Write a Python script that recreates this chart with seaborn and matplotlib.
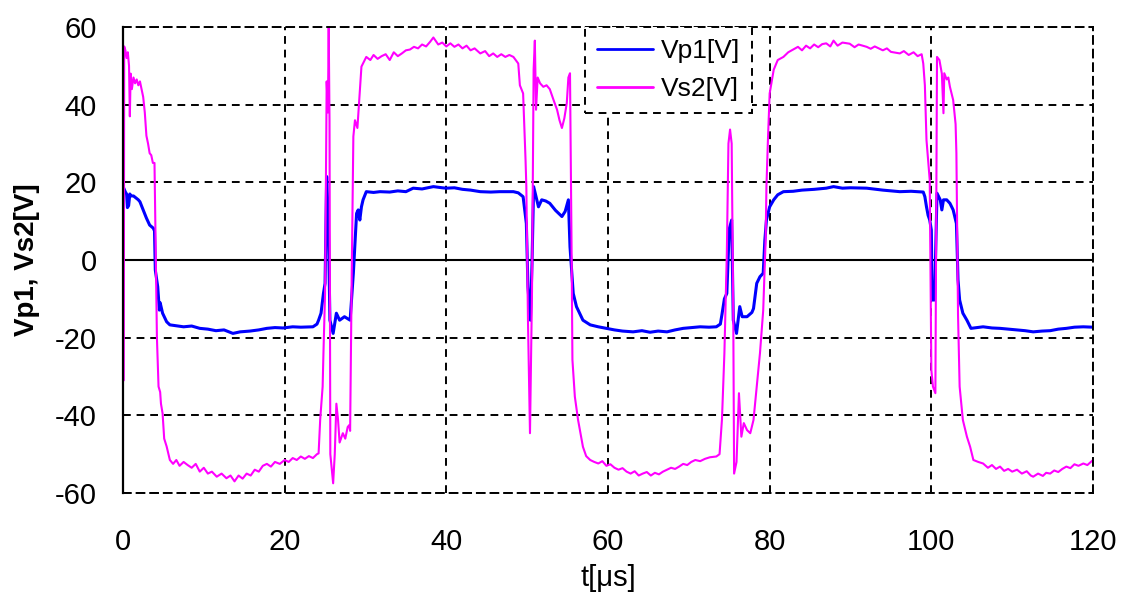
import numpy as np
import pandas as pd
import matplotlib
matplotlib.use("Agg")
import matplotlib.pyplot as plt
import seaborn as sns

# Vp1 waveform (t in us, volts)
t_vp1 = [0.1, 0.3, 0.45, 0.55, 0.7, 0.85, 1.0, 1.3, 1.6, 1.9, 2.1, 2.5, 2.9, 3.3, 3.75, 3.9,
         4.0, 4.3, 4.5, 4.6, 4.9, 5.4, 5.8, 6.5, 7.5, 8.5, 9.5, 10.5, 11.5, 12.5, 13.6, 14.5,
         15.7, 16.8, 17.8, 18.8, 19.8, 21.0, 22.0, 23.5, 24.0, 24.2, 24.5, 24.8, 25.0, 25.2,
         25.4, 25.6, 26.0, 26.4, 26.6, 26.8, 27.4, 28.1, 28.5, 28.9, 29.1, 29.3, 29.5, 29.7,
         30.1, 31.0, 31.8, 33.0, 34.0, 35.0, 35.9, 37.0, 38.4, 39.5, 40.0, 41.0, 42.0, 43.0,
         44.2, 45.5, 46.6, 48.3, 48.9, 49.5, 49.7, 49.9, 50.1, 50.4, 50.6, 50.8, 51.2, 51.4,
         51.8, 52.3, 52.8, 53.5, 54.3, 54.7, 55.1, 55.3, 55.7, 56.1, 56.9, 57.8, 58.8, 59.8,
         60.8, 61.8, 63.1, 64.2, 65.2, 66.2, 67.3, 68.3, 69.3, 70.3, 71.4, 72.5, 73.4, 73.9,
         74.1, 74.4, 74.7, 75.0, 75.3, 75.5, 75.9, 76.3, 76.6, 77.2, 77.8, 78.0, 78.4, 78.8,
         79.2, 79.4, 79.6, 80.0, 80.5, 81.0, 81.7, 82.9, 84.0, 85.5, 87.0, 87.9, 89.0, 90.0,
         92.0, 94.0, 96.1, 97.5, 99.0, 99.2, 99.4, 99.6, 99.8, 100.0, 100.1, 100.4, 100.7,
         101.1, 101.3, 101.5, 101.9, 102.3, 102.7, 103.1, 103.3, 103.5, 103.9, 104.4, 104.9,
         106.4, 107.5, 108.5, 110.6, 111.6, 112.6, 113.7, 114.7, 115.7, 116.7, 117.7, 118.8, 120.0]
vp1 = [18.5, 17.5, 17.0, 13.5, 14.0, 17.0, 16.5, 16.5, 16.0, 15.5, 15.0, 12.9, 10.8, 9.0, 8.2, 7.5,
       -2.6, -6.9, -12.9, -11.0, -13.7, -15.9, -16.7, -16.9, -17.2, -17.0, -17.6, -17.8, -18.2, -18.0, -18.9, -18.5,
       -18.3, -18.0, -17.6, -17.4, -17.5, -17.2, -17.3, -17.2, -16.5, -15.5, -13.7, -8.6, -6.0, 21.5,
       10.3, -15.5, -18.9, -13.7, -14.6, -15.5, -14.6, -15.5, -3.4, 12.0, 12.9, 10.3, 13.7, 15.5,
       17.6, 17.4, 17.6, 17.5, 17.8, 17.6, 18.5, 18.3, 18.9, 18.6, 18.5, 18.6, 18.2, 18.0,
       17.6, 17.5, 17.6, 17.6, 17.3, 16.3, 12.9, 9.4, -6.9, -15.5, -1.0, 18.9, 15.5, 13.7,
       15.5, 15.2, 14.6, 12.8, 11.2, 12.5, 15.5, 3.4, -8.6, -12.0, -15.5, -16.7, -17.2, -17.6,
       -18.0, -18.3, -18.5, -18.2, -18.6, -18.3, -18.5, -18.0, -17.6, -17.4, -17.2, -17.3, -17.2, -16.5,
       -14.0, -10.0, -8.6, 8.0, 10.3, -15.5, -18.9, -12.0, -14.6, -14.6, -13.5, -12.5, -6.0, -4.3,
       -3.4, 5.0, 10.3, 13.7, 15.5, 16.8, 17.6, 17.7, 18.0, 18.2, 18.5, 18.9, 18.5, 18.6,
       18.5, 18.0, 17.6, 17.7, 17.5, 16.3, 13.7, 11.5, 10.3, 7.7, -10.3, -10.3, 17.2,
       15.5, 12.9, 15.5, 15.5, 14.6, 12.9, 9.4, -5.1, -10.3, -13.7, -15.5, -17.6,
       -17.2, -17.5, -17.6, -18.0, -18.2, -18.5, -18.3, -18.2, -17.8, -17.6, -17.3, -17.2, -17.3]

# Vs2 waveform
t_vs2 = [0.1, 0.15, 0.3, 0.45, 0.6, 0.75, 0.85, 0.95, 1.1, 1.3, 1.5, 1.7, 1.9, 2.1, 2.3, 2.5,
         2.7, 2.9, 3.1, 3.3, 3.5, 3.7, 3.9, 4.0, 4.2, 4.4, 4.6, 4.7, 4.9, 5.1, 5.4, 5.8, 6.2,
         6.6, 7.0, 7.5, 8.0, 8.5, 9.0, 9.5, 10.0, 10.5, 11.0, 11.6, 12.2, 12.8, 13.3, 13.8,
         14.3, 14.8, 15.3, 15.8, 16.3, 16.8, 17.3, 17.8, 18.3, 18.8, 19.4, 20.0, 20.5, 21.0,
         21.5, 22.0, 22.5, 23.0, 23.5, 24.0, 24.2, 24.4, 24.7, 24.8, 25.0, 25.2, 25.35, 25.45,
         25.55, 25.65, 26.0, 26.2, 26.4, 26.6, 26.8, 27.2, 27.5, 27.8, 28.0, 28.1, 28.3, 28.5,
         28.7, 29.0, 29.2, 29.5, 30.1, 30.6, 31.0, 31.5, 32.0, 32.5, 33.0, 33.5, 34.0, 34.5,
         35.0, 35.5, 36.0, 36.5, 37.0, 37.5, 38.0, 38.4, 39.0, 39.5, 40.0, 40.5, 41.0, 41.5,
         42.0, 42.5, 43.0, 43.5, 44.2, 44.8, 45.3, 45.8, 46.3, 46.8, 47.3, 47.8, 48.3, 48.9,
         49.1, 49.5, 49.8, 49.9, 50.1, 50.35, 50.6, 50.8, 50.95, 51.1, 51.3, 51.6, 52.0, 52.4,
         52.8, 53.3, 53.7, 54.0, 54.3, 54.6, 54.9, 55.1, 55.3, 55.5, 55.6, 55.9, 56.3, 56.9,
         57.3, 57.8, 58.3, 58.8, 59.3, 59.8, 60.3, 60.8, 61.3, 61.8, 62.3, 62.8, 63.3, 63.8,
         64.3, 64.8, 65.3, 65.8, 66.3, 66.8, 67.3, 67.8, 68.3, 68.8, 69.3, 69.8, 70.3, 70.8,
         71.4, 72.0, 72.6, 73.4, 73.8, 74.1, 74.4, 74.7, 74.9, 75.1, 75.3, 75.5, 75.6, 75.9,
         76.2, 76.5, 76.8, 77.2, 77.6, 78.0, 78.4, 78.8, 79.2, 79.5, 79.6, 79.8, 80.0, 80.5,
         81.0, 81.7, 82.3, 82.9, 83.5, 84.0, 84.5, 85.0, 85.5, 86.0, 86.5, 87.0, 87.5, 87.9,
         88.4, 89.0, 89.9, 90.5, 91.0, 92.0, 92.5, 93.0, 94.0, 94.5, 95.0, 96.1, 96.6, 97.2,
         97.8, 98.3, 98.8, 99.0, 99.2, 99.4, 99.8, 100.0, 100.2, 100.5, 100.7, 101.0, 101.3,
         101.5, 101.6, 101.9, 102.1, 102.3, 102.7, 103.0, 103.1, 103.3, 103.5, 103.9, 104.4,
         104.8, 105.2, 105.8, 106.4, 107.0, 107.5, 108.0, 108.5, 109.0, 109.5, 110.0, 110.6,
         111.2, 111.8, 112.3, 112.6, 113.2, 113.8, 114.2, 114.7, 115.2, 115.7, 116.2, 116.7,
         117.2, 117.7, 118.2, 118.8, 119.3, 120.0]
vs2 = [-31.0, 55.0, 54.0, 52.0, 53.5, 50.0, 37.0, 48.0, 44.0, 47.0, 45.5, 46.5, 45.0, 46.0, 44.0, 42.0,
       38.0, 32.0, 30.0, 27.5, 27.0, 25.0, 25.0, 10.0, -20.0, -32.6, -34.0, -37.0, -39.5, -46.0, -48.0, -51.5, -52.5,
       -51.5, -53.0, -52.0, -52.8, -53.5, -52.5, -54.5, -53.5, -55.0, -54.5, -55.8, -55.0, -56.2, -55.5, -57.0,
       -55.5, -56.3, -55.0, -55.5, -54.0, -54.5, -53.0, -52.5, -53.2, -52.0, -52.5, -51.5, -52.0, -51.0,
       -51.5, -50.6, -51.2, -50.5, -51.0, -50.0, -49.8, -41.0, -32.6, -24.0, -8.6, 46.0, 38.0, 60.0,
       36.0, -50.0, -57.5, -50.0, -37.0, -41.0, -47.0, -44.6, -46.0, -43.0, -42.5, -44.0, -3.5, 31.8,
       36.0, 34.0, 40.4, 49.8, 52.3, 51.5, 52.8, 51.8, 52.5, 53.0, 51.5, 53.5, 52.5, 53.2,
       54.0, 54.2, 54.9, 54.5, 55.5, 55.0, 56.2, 57.3, 55.5, 56.0, 55.0, 55.8, 54.9, 55.5,
       54.5, 55.2, 54.0, 54.5, 53.2, 53.8, 52.5, 53.2, 52.3, 53.0, 52.3, 52.8, 52.3, 50.6,
       45.0, 42.9, 25.8, 18.9, -15.5, -44.6, -8.0, 49.0, 56.5, 38.7, 47.0, 45.5, 44.6, 45.0,
       44.0, 41.0, 38.7, 36.0, 34.0, 36.5, 40.4, 47.0, 48.1, 1.7, -25.7, -35.2, -41.2, -48.1,
       -50.5, -51.5, -52.0, -52.4, -51.8, -53.0, -52.6, -53.5, -54.0, -53.6, -54.5, -55.0, -54.4, -55.5,
       -55.0, -54.6, -55.5, -54.8, -55.2, -54.5, -54.0, -53.5, -53.8, -53.2, -52.5, -52.8, -52.0, -51.5,
       -51.8, -51.2, -50.8, -50.6, -50.0, -41.0, -24.0, 1.7, 30.0, 33.6, 30.0, -15.5, -55.0, -52.0,
       -34.3, -45.5, -42.0, -43.8, -44.6, -41.2, -32.6, -24.0, -13.0, 5.0, 18.9, 31.8, 42.9, 49.0,
       51.5, 52.3, 53.5, 54.2, 54.9, 54.0, 55.2, 54.5, 55.5, 54.8, 55.6, 55.8, 55.0, 56.5,
       55.2, 56.0, 55.7, 54.8, 55.5, 54.9, 54.4, 55.0, 54.0, 54.5, 53.6, 53.2, 53.8, 52.8,
       53.5, 52.5, 53.0, 50.6, 45.0, 30.9, 20.6, -28.3, -32.6, -34.3, 52.3, 51.5, 48.0,
       37.8, 48.1, 46.5, 47.0, 44.6, 41.2, 35.0, 27.5, -14.0, -32.6, -41.2, -45.5,
       -48.1, -51.5, -52.0, -52.4, -53.5, -52.8, -53.8, -53.2, -54.3, -53.8, -54.5, -54.0,
       -55.0, -54.4, -55.5, -55.8, -55.0, -55.6, -54.8, -55.0, -54.2, -54.6, -53.8, -53.2,
       -53.6, -52.6, -53.0, -52.4, -52.8, -51.5]

x_ticks = [0, 20, 40, 60, 80, 100, 120]
y_ticks = [-60, -40, -20, 0, 20, 40, 60]

df = pd.concat([
    pd.DataFrame({"t": t_vp1, "V": vp1, "series": "Vp1[V]"}),
    pd.DataFrame({"t": t_vs2, "V": vs2, "series": "Vs2[V]"}),
], ignore_index=True)

sns.set_style("white")
plt.rcParams["font.family"] = ["Liberation Sans", "DejaVu Sans"]
plt.rcParams["axes.unicode_minus"] = False
plt.rcParams["text.color"] = "black"
plt.rcParams["axes.labelcolor"] = "black"

fig = plt.figure(figsize=(11.23, 6.10), dpi=100)
ax = fig.add_axes([0.1095, 0.1918, 0.8638, 0.7639])

dash = (0, (4, 3))
ax.set_xlim(0, 120)
ax.set_ylim(-60, 60)
ax.set_xticks(x_ticks)
ax.set_yticks(y_ticks)
ax.grid(True, color="black", linestyle=dash, linewidth=1.4)
ax.axhline(0, color="black", linewidth=1.5, zorder=1.5)

colors = {"Vp1[V]": "#0000ff", "Vs2[V]": "#ff00ff"}
widths = {"Vp1[V]": 2.2, "Vs2[V]": 1.5}
for name in ["Vp1[V]", "Vs2[V]"]:
    sns.lineplot(data=df[df["series"] == name], x="t", y="V", color=colors[name],
                 linewidth=widths[name], estimator=None, sort=False, label=name, ax=ax)

for side in ["top", "right", "bottom"]:
    ax.spines[side].set_linestyle(dash)
    ax.spines[side].set_linewidth(1.4)
    ax.spines[side].set_color("black")
ax.spines["left"].set_linewidth(1.6)
ax.spines["left"].set_color("black")

ax.tick_params(axis="y", direction="inout", length=12, width=1.5, labelsize=21, pad=13, colors="black")
ax.tick_params(axis="x", direction="in", length=6, width=1.5, labelsize=21, pad=25, colors="black")

ax.set_xlabel("t[\u03bcs]", fontsize=21)
ax.set_ylabel("Vp1, Vs2[V]", fontsize=20, fontweight="bold")
ax.xaxis.set_label_coords(0.5, -0.152)
ax.yaxis.set_label_coords(-0.086, 0.5)

leg = ax.legend(loc="upper left", bbox_to_anchor=(0.476, 1.0), fontsize=19, frameon=True,
                fancybox=False, framealpha=1, borderaxespad=0, borderpad=0.45,
                handlelength=2.15, handletextpad=0.3, labelspacing=0.55)
frame = leg.get_frame()
frame.set_edgecolor("black")
frame.set_linestyle(dash)
frame.set_linewidth(1.4)
for line in leg.get_lines():
    line.set_linewidth(2)

fig.savefig("out.png", dpi=100, facecolor="white")
